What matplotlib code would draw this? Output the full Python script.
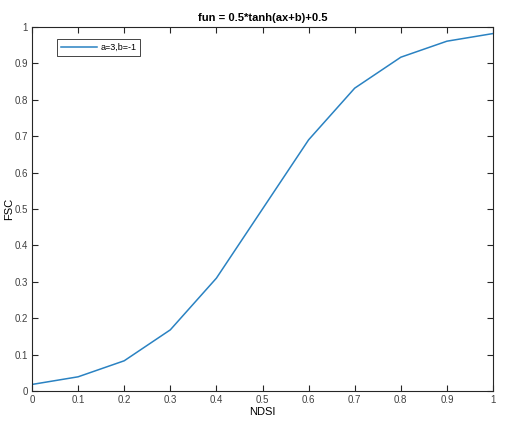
import matplotlib.pyplot as plt

# values
ndsi = [0, 0.1, 0.2, 0.3, 0.4, 0.5, 0.6, 0.7, 0.8, 0.9, 1.0]
fsc = [0.018, 0.039, 0.083, 0.168, 0.31, 0.5, 0.69, 0.832, 0.917, 0.961, 0.982]

plt.rcParams['font.family'] = ['Liberation Sans', 'DejaVu Sans']

fig = plt.figure(figsize=(5.09, 4.24), dpi=100)
ax = fig.add_axes([32 / 509, 1 - 391 / 424, 461 / 509, 364 / 424])

ax.plot(ndsi, fsc, color='#2a82c2', linewidth=1.1, label='a=3,b=-1')

ax.set_xlim(0, 1)
ax.set_ylim(0, 1)
ax.set_xticks([i / 10 for i in range(11)])
ax.set_yticks([i / 10 for i in range(11)])
ax.set_xticklabels(['0', '0.1', '0.2', '0.3', '0.4', '0.5', '0.6', '0.7', '0.8', '0.9', '1'])
ax.set_yticklabels(['0', '0.1', '0.2', '0.3', '0.4', '0.5', '0.6', '0.7', '0.8', '0.9', '1'])
ax.tick_params(direction='in', top=True, right=True, length=4, width=0.8,
               labelsize=7, pad=3, colors='#262626')
ax.tick_params(labelcolor='#404040')
for s in ax.spines.values():
    s.set_linewidth(0.8)
    s.set_color('#262626')

ax.set_xlabel('NDSI', fontsize=8, labelpad=1)
ax.set_ylabel('FSC', fontsize=8, labelpad=0)
ax.set_title('fun = 0.5*tanh(ax+b)+0.5', fontsize=8, fontweight='bold', pad=4)

leg = ax.legend(loc='upper left', bbox_to_anchor=(0.045, 0.98), fontsize=6.5,
                fancybox=False, framealpha=1, edgecolor='#262626',
                handlelength=4, borderpad=0.45, handletextpad=0.3)
leg.get_frame().set_linewidth(0.6)

fig.savefig('out.png', dpi=100)
